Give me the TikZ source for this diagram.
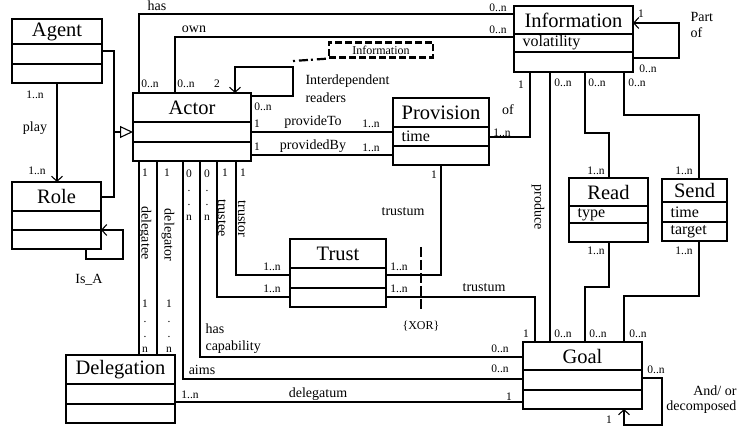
\documentclass[tikz,border=0pt]{standalone}
\usepackage{fontspec}
\setmainfont{Liberation Serif}
\usetikzlibrary{arrows.meta}

% class box: name, left, top, right, bottom, first line, second line, title, attribute
\newcommand{\umlclass}[9]{%
  \node[classbox, minimum width={#4-#2}, minimum height={#5-#3}] (#1) at ({(#2+#4)/2},{(#3+#5)/2}) {};
  \draw[titlesep] (#1.west |- 0,#6) -- (#1.east |- 0,#6);
  \draw[boxline] (#1.west |- 0,#7) -- (#1.east |- 0,#7);
  \node[classname] (#1-name) at ({(#2+#4)/2},{(#3+#6)/2}) {#8};
  \node[attrib] (#1-attr) at (#2,{(#6+#7)/2}) {#9};
}

\begin{document}
\begin{tikzpicture}[x=1pt, y=-1pt, line width=1.1pt,
    classbox/.style={draw, line width=1.3pt, inner sep=0pt, outer sep=0pt},
    boxline/.style={line width=1.3pt},
    titlesep/.style={line width=1.8pt},
    classname/.style={font=\fontsize{20.5}{24}\selectfont, inner sep=0pt},
    attrib/.style={font=\fontsize{16}{18}\selectfont, anchor=west, inner sep=0pt, xshift=8pt},
    lbl/.style={font=\fontsize{14}{17}\selectfont, inner sep=0pt},
    mult/.style={font=\fontsize{11.5}{14.3}\selectfont, inner sep=0pt, align=center},
    navarrow/.style={-{Straight Barb[length=5pt,width=11pt]}},
    genarrow/.style={-{Triangle[open,length=13pt,width=12pt,fill=white]}},
    notebox/.style={draw, dash pattern=on 7pt off 3pt, line width=2.2pt, inner sep=0pt,
      minimum width=104pt, minimum height=15pt, font=\fontsize{12}{14}\selectfont},
    notelink/.style={dash pattern=on 2pt off 4pt on 9pt off 3pt, line width=2.2pt},
    xorline/.style={dash pattern=on 10pt off 3pt, line width=2.6pt}]
\useasboundingbox (0,0) rectangle (737,430);

\umlclass{agent}{12}{19}{102}{83}{44}{64}{Agent}{}
\umlclass{role}{12}{182}{101}{249}{211}{230}{Role}{}
\umlclass{actor}{133}{93}{251}{161}{122}{142}{Actor}{}
\umlclass{provision}{393}{98}{489}{165}{127}{146}{Provision}{time}
\umlclass{info}{514}{6}{633}{72}{34}{52}{Information}{volatility}
\umlclass{read}{569}{178}{648}{242}{206}{223}{Read}{type}
\umlclass{send}{662}{179}{727}{241}{202}{222}{Send}{time}
\node[attrib] (send-attr2) at (662,232) {target};
\umlclass{trust}{290}{239}{386}{307}{268}{288}{Trust}{}
\umlclass{deleg}{66}{355}{175}{423}{384}{404}{Delegation}{}
\umlclass{goal}{523}{342}{642}{409}{370}{390}{Goal}{}

\node[notebox] (note) at (381,50) {Information};

% actor to information
\draw (139,0 |- actor.north) |- (info.west |- 0,14);
\draw (175,0 |- actor.north) |- (info.west |- 0,37);
\node[lbl] (l-has) at (157,6) {has};
\node[lbl] (l-own) at (194,29) {own};
\node[mult] (m-has1) at (150,84) {0..n};
\node[mult] (m-own1) at (186,84) {0..n};
\node[mult] (m-has2) at (498,8) {0..n};
\node[mult] (m-own2) at (498,30) {0..n};

% agent, role
\draw[navarrow] (57,0 |- agent.south) -- (57,0 |- role.north);
\node[mult] (m-play1) at (35,95) {1..n};
\node[lbl] (l-play) at (35,128) {play};
\node[mult] (m-play2) at (37,171) {1..n};
\coordinate (gen) at (114,132);
\draw (agent.east |- 0,51) -| (114,197) -- (role.east |- 0,197);
\draw[genarrow] (gen) -- (actor.west |- gen);
\draw[navarrow] (86,0 |- role.south) |- (123,259) |- (role.east |- 0,230);
\node[lbl] (l-isa) at (89,280) {Is\_A};

% interdependent readers
\coordinate (loopcorner) at (293,61);
\draw[navarrow] (actor.east |- 0,96) -| (293,67) -| (235,0 |- actor.north);
\draw[notelink] (loopcorner) -- (note.south west);
\node[mult] (m-read2) at (217,84) {2};
\node[mult] (m-read0) at (263,107) {0..n};
\node[lbl, align=left, anchor=west, font=\fontsize{14}{18}\selectfont] (l-interdep) at (305,89) {Interdependent\\readers};

% provision
\draw (actor.east |- 0,132) -- (provision.west |- 0,132);
\draw (actor.east |- 0,155) -- (provision.west |- 0,155);
\node[mult] (m-pto1) at (257,124) {1};
\node[lbl] (l-pto) at (313,122) {provideTo};
\node[mult] (m-pto2) at (371,124) {1..n};
\node[mult] (m-pby1) at (257,147) {1};
\node[lbl] (l-pby) at (313,146) {providedBy};
\node[mult] (m-pby2) at (371,148) {1..n};
\draw (provision.east |- 0,137) -| (530,0 |- info.south);
\node[mult] (m-of1) at (521,85) {1};
\node[lbl] (l-of) at (508,110) {of};
\node[mult] (m-of2) at (502,133) {1..n};

% trust
\draw (441,0 |- provision.south) |- (trust.east |- 0,275);
\draw (trust.east |- 0,297) -| (535,0 |- goal.north);
\node[mult] (m-tp1) at (434,175) {1};
\node[lbl] (l-trustum1) at (403,212) {trustum};
\node[mult] (m-tp2) at (399,267) {1..n};
\node[mult] (m-tg1) at (399,289) {1..n};
\node[lbl] (l-trustum2) at (484,288) {trustum};
\node[mult] (m-tg2) at (526,334) {1};
\coordinate (xortop) at (421,247);
\coordinate (xorbot) at (421,312);
\draw[xorline] (xortop) -- (xorbot);
\node[mult, font=\fontsize{12}{14}\selectfont] (xor) at (421,326) {\{XOR\}};

% actor downwards
\draw (236,0 |- actor.south) |- (trust.west |- 0,275);
\draw (217,0 |- actor.south) |- (trust.west |- 0,297);
\draw (200,0 |- actor.south) |- (goal.west |- 0,357);
\draw (183,0 |- actor.south) |- (goal.west |- 0,379);
\draw (157,0 |- actor.south) -- (157,0 |- deleg.north);
\draw (139,0 |- actor.south) -- (139,0 |- deleg.north);
\node[mult] (m-dee1) at (145,173) {1};
\node[mult] (m-dor1) at (167,173) {1};
\node[mult] (m-cap1) at (189,195) {0\\.\\.\\n};
\node[mult] (m-aim1) at (207,195) {0\\.\\.\\n};
\node[mult] (m-tee1) at (225,173) {1};
\node[mult] (m-tor1) at (243,173) {1};
\node[lbl, rotate=-90] (l-delegatee) at (145,233) {delegatee};
\node[lbl, rotate=-90] (l-delegator) at (168,235) {delegator};
\node[lbl, rotate=-90] (l-trustee) at (222,218) {trustee};
\node[lbl, rotate=-90] (l-trustor) at (242,219) {trustor};
\node[mult] (m-tor2) at (272,267) {1..n};
\node[mult] (m-tee2) at (272,289) {1..n};
\node[mult, font=\fontsize{11.5}{15}\selectfont] (m-dee2) at (145,326) {1\\.\\.\\n};
\node[mult, font=\fontsize{11.5}{15}\selectfont] (m-dor2) at (169,326) {1\\.\\.\\n};
\node[lbl, align=left, anchor=west] (l-cap) at (205,339) {has\\capability};
\node[lbl] (l-aims) at (202,370) {aims};
\node[mult] (m-cap2) at (500,349) {0..n};
\node[mult] (m-aim2) at (500,369) {0..n};

% delegation
\draw (deleg.east |- 0,402) -- (goal.west |- 0,402);
\node[mult] (m-dtum1) at (190,395) {1..n};
\node[lbl] (l-delegatum) at (318,394) {delegatum};
\node[mult] (m-dtum2) at (509,397) {1};

% information to goal
\draw (550,0 |- info.south) -- (550,0 |- goal.north);
\draw (585,0 |- info.south) |- (609,133) -- (609,0 |- read.north);
\draw (609,0 |- read.south) |- (585,287) -- (585,0 |- goal.north);
\draw (624,0 |- info.south) |- (699,115) -- (699,0 |- send.north);
\draw (699,0 |- send.south) |- (624,296) -- (624,0 |- goal.north);
\node[lbl, rotate=-90] (l-produce) at (538,207) {produce};
\node[mult] (m-pr1) at (563,83) {0..n};
\node[mult] (m-rd1) at (597,83) {0..n};
\node[mult] (m-sd1) at (637,83) {0..n};
\node[mult] (m-rd2) at (596,171) {1..n};
\node[mult] (m-sd2) at (684,171) {1..n};
\node[mult] (m-rd3) at (596,251) {1..n};
\node[mult] (m-sd3) at (684,251) {1..n};
\node[mult] (m-pr2) at (563,334) {0..n};
\node[mult] (m-rd4) at (598,334) {0..n};
\node[mult] (m-sd4) at (638,334) {0..n};

% self loops
\draw[navarrow] (info.east |- 0,58) -| (679,23) -- (info.east |- 0,23);
\node[mult] (m-part1) at (641,14) {1};
\node[mult] (m-part2) at (648,69) {0..n};
\node[lbl, align=left, anchor=west, font=\fontsize{14}{16}\selectfont] (l-part) at (690,25) {Part\\of};
\draw[navarrow] (goal.east |- 0,378) -| (662,425) -| (624,0 |- goal.south);
\node[mult] (m-dec1) at (656,370) {0..n};
\node[mult] (m-dec2) at (609,420) {1};
\node[lbl, align=right, anchor=east, font=\fontsize{14}{15}\selectfont] (l-dec) at (737,400) {And/ or\\decomposed};
\end{tikzpicture}
\end{document}
